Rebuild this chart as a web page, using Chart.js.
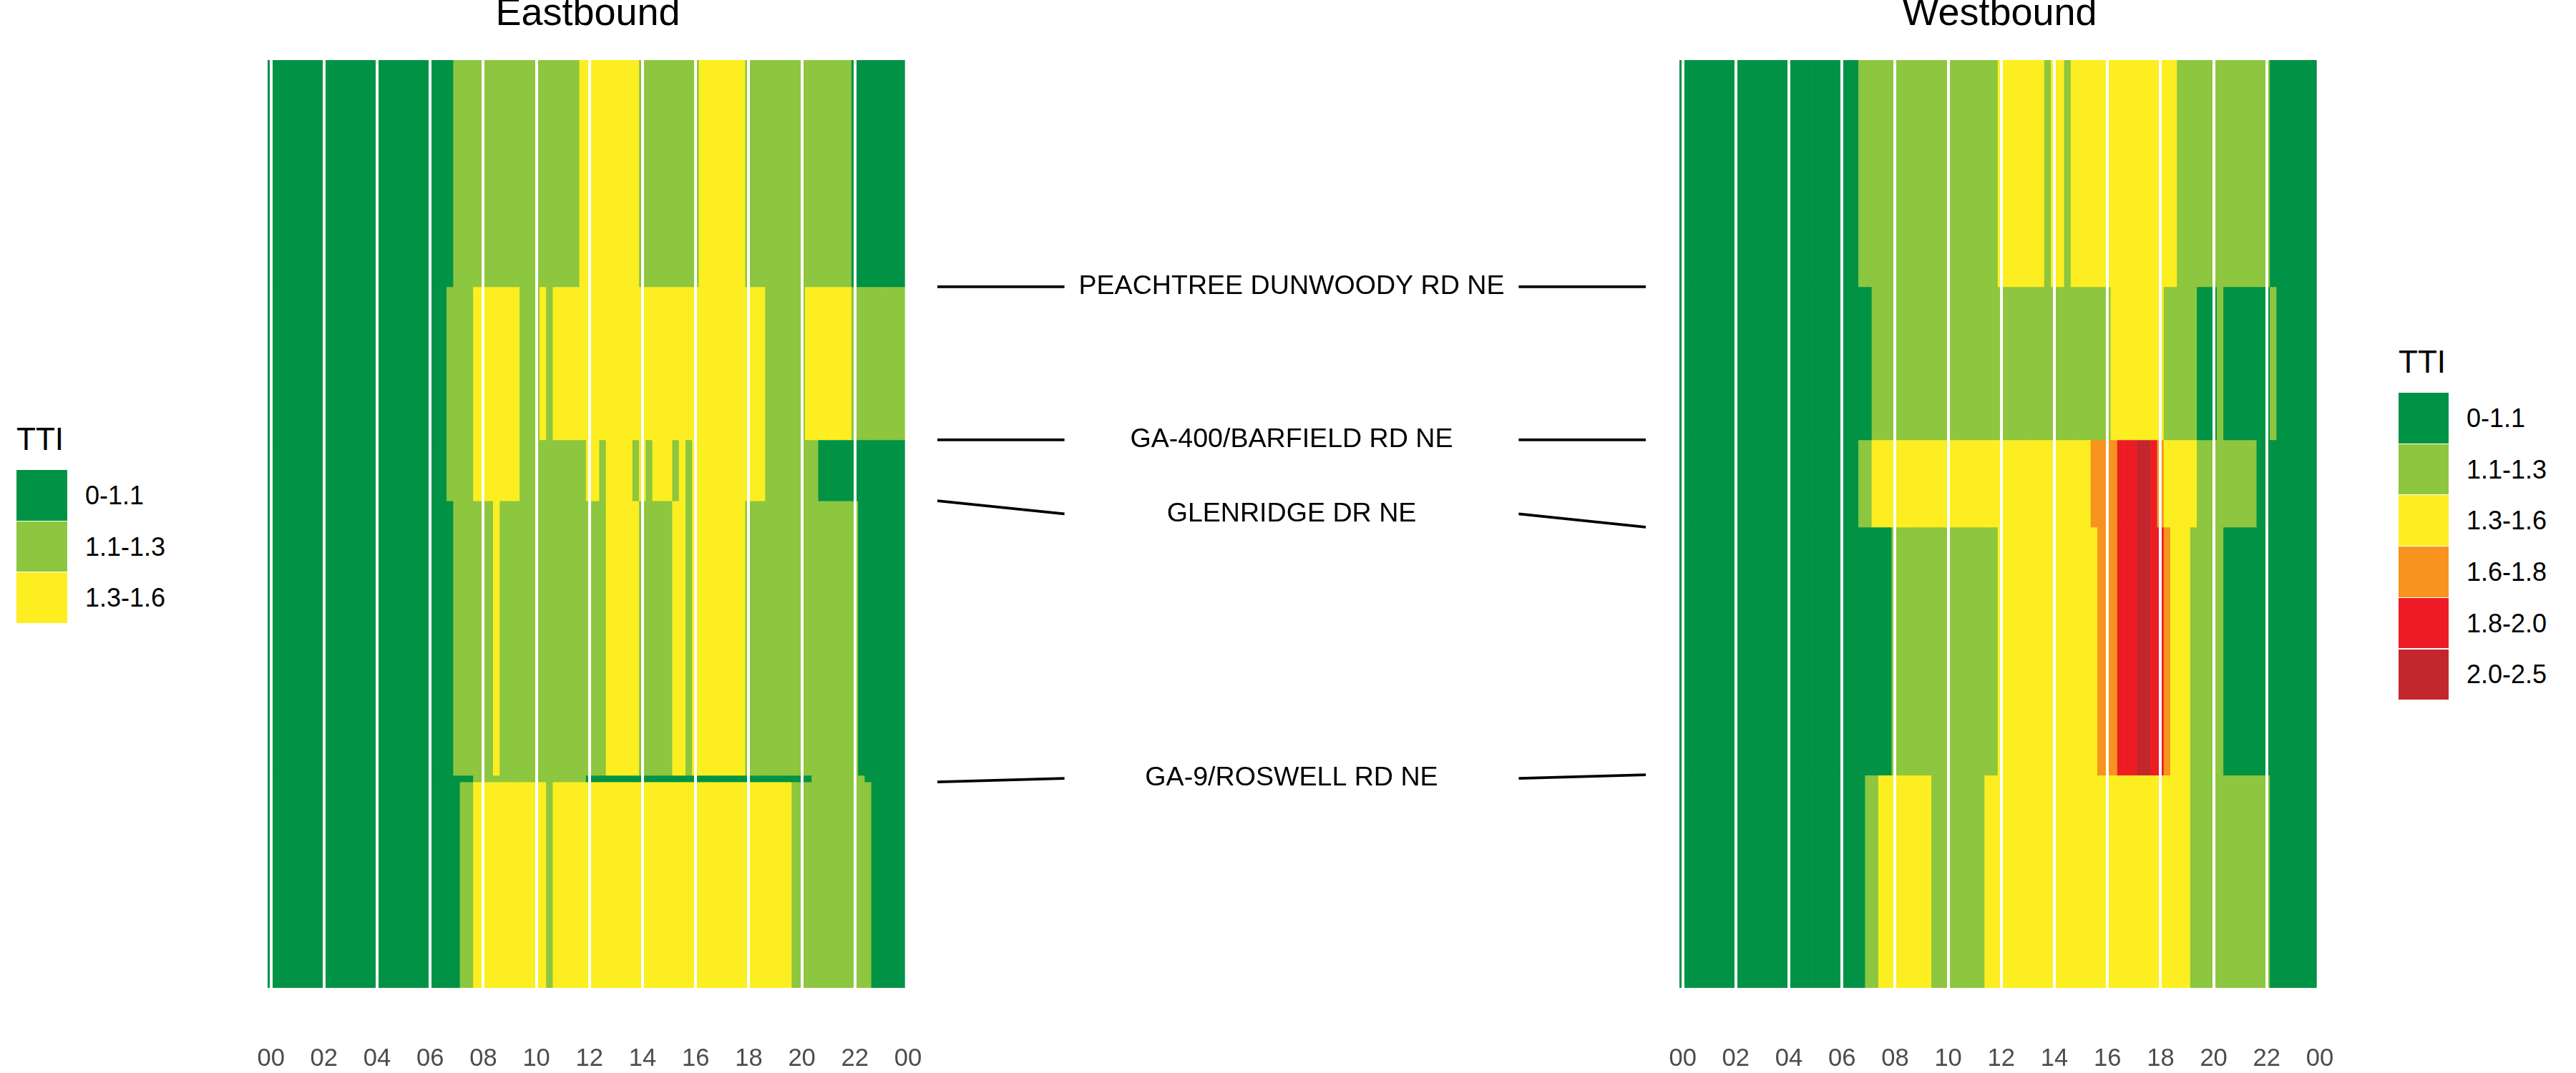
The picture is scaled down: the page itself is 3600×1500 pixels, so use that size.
<!DOCTYPE html>
<html>
<head>
<meta charset="utf-8">
<script src="https://cdn.jsdelivr.net/npm/chart.js@4.4.0/dist/chart.umd.min.js"></script>
<style>
  html, body { margin:0; padding:0; background:#fff; width:3600px; height:1500px; overflow:hidden;
    font-family:"Liberation Sans", Arial, sans-serif; }
  .wrap { position:absolute; top:0; }
  .lg-title { position:absolute; font-size:44px; line-height:44px; color:#000; white-space:nowrap; }
  .lg-key { position:absolute; }
  .lg-label { position:absolute; font-size:36px; line-height:36px; color:#000; white-space:nowrap; }
</style>
</head>
<body>
<div class="wrap" id="eastWrap" style="left:274px;width:1095px;height:1579px"><canvas id="east" width="1095" height="1579"></canvas></div>
<div class="wrap" id="midWrap" style="left:1310px;width:990px;height:1500px"><canvas id="mid" width="990" height="1500"></canvas></div>
<div class="wrap" id="westWrap" style="left:2247px;width:1095px;height:1579px"><canvas id="west" width="1095" height="1579"></canvas></div>
<div id="legends"></div>
<script>
// ---------------- DATA ----------------
const timeBins = [
  "00:00","00:15","00:30","00:45","01:00","01:15","01:30","01:45",
  "02:00","02:15","02:30","02:45","03:00","03:15","03:30","03:45",
  "04:00","04:15","04:30","04:45","05:00","05:15","05:30","05:45",
  "06:00","06:15","06:30","06:45","07:00","07:15","07:30","07:45",
  "08:00","08:15","08:30","08:45","09:00","09:15","09:30","09:45",
  "10:00","10:15","10:30","10:45","11:00","11:15","11:30","11:45",
  "12:00","12:15","12:30","12:45","13:00","13:15","13:30","13:45",
  "14:00","14:15","14:30","14:45","15:00","15:15","15:30","15:45",
  "16:00","16:15","16:30","16:45","17:00","17:15","17:30","17:45",
  "18:00","18:15","18:30","18:45","19:00","19:15","19:30","19:45",
  "20:00","20:15","20:30","20:45","21:00","21:15","21:30","21:45",
  "22:00","22:15","22:30","22:45","23:00","23:15","23:30","23:45"
];
const tickHours  = [0, 2, 4, 6, 8, 10, 12, 14, 16, 18, 20, 22, 24];
const tickLabels = ["00","02","04","06","08","10","12","14","16","18","20","22","00"];

const ttiLabels = ["0-1.1", "1.1-1.3", "1.3-1.6", "1.6-1.8", "1.8-2.0", "2.0-2.5"];
const ttiColors = ["#009245", "#8DC63F", "#FCEE21", "#F7931E", "#ED1C24", "#C1272D"];

// segment boundaries along the corridor (miles from top of panel)
const eastBounds = [0, 0.733, 1.228, 1.425, 2.313, 2.334, 3.0];
const westBounds = [0, 0.733, 1.228, 1.510, 2.312, 3.0];

// TTI class per 15-minute bin (index into ttiLabels), one string per segment
const eastSeg1 = "00000000 00000000 00000000 00001111 11111111 11111112 22222222 11111111 12222222 11111111 11111111 00000000";
const eastSeg2 = "00000000 00000000 00000000 00011112 22222211 12122222 22222222 22222222 22222222 22211111 12222222 11111111";
const eastSeg3 = "00000000 00000000 00000000 00011112 22222211 11111111 22122221 21222121 22222222 22211111 11100000 00000000";
const eastSeg4 = "00000000 00000000 00000000 00001111 11211111 11111111 11122222 11111221 22222222 11111111 11111111 10000000";
const eastSeg5 = "00000000 00000000 00000000 00000001 11111111 11111111 00000000 00000000 00000000 00000000 00111111 11000000";
const eastSeg6 = "00000000 00000000 00000000 00000112 22222222 22122222 22222222 22222222 22222222 22222221 11111111 11100000";

const westSeg1 = "00000000 00000000 00000000 00011111 11111111 11111111 22222221 22122222 22222222 22211111 11111111 10000000";
const westSeg2 = "00000000 00000000 00000000 00000111 11111111 11111111 11111111 11111111 12222222 21111100 01000000 01000000";
const westSeg3 = "00000000 00000000 00000000 00011222 22222222 22222222 22222222 22222233 33444554 32222211 11111110 00000000";
const westSeg4 = "00000000 00000000 00000000 00000000 11111111 11111111 22222222 22222223 33444554 43222111 11000000 00000000";
const westSeg5 = "00000000 00000000 00000000 00001122 22222211 11111122 22222222 22222222 22222222 22222111 11111111 10000000";

// road landmarks (name, position in east panel, position in west panel)
const landmarkNames = ["PEACHTREE DUNWOODY RD NE", "GA-400/BARFIELD RD NE", "GLENRIDGE DR NE", "GA-9/ROSWELL RD NE"];
const landmarkEast  = [0.733, 1.228, 1.425, 2.334];
const landmarkWest  = [0.733, 1.228, 1.510, 2.311];

// ---------------- BUILD ----------------
const FONT = "'Liberation Sans', Arial, sans-serif";
const hourOf = s => Number(s.slice(0, 2)) + Number(s.slice(3, 5)) / 60;
const clean = s => s.replace(/\s+/g, "").split("").map(Number);

function heatDatasets(segments, bounds) {
  return segments.map((seg, i) => {
    const codes = clean(seg);
    return {
      data: timeBins.map(t => ({ x: hourOf(t), y: [bounds[i], bounds[i + 1]] })),
      backgroundColor: codes.map(c => ttiColors[c]),
      borderWidth: 0,
      grouped: false,
      barPercentage: 1,
      categoryPercentage: 1
    };
  });
}

function heatChart(id, title, segments, bounds) {
  return new Chart(document.getElementById(id), {
    type: "bar",
    data: { datasets: heatDatasets(segments, bounds) },
    options: {
      responsive: false,
      animation: false,
      layout: { padding: { left: 100, right: 100, top: 0, bottom: 0 } },
      plugins: {
        legend: { display: false },
        tooltip: { enabled: false },
        title: {
          display: true, text: title, color: "#000000",
          font: { family: FONT, size: 54, weight: "normal", lineHeight: 0.74 },
          padding: { top: 0.6, bottom: 43.4 }
        }
      },
      scales: {
        x: {
          type: "linear", min: -0.125, max: 24, offset: false,
          afterBuildTicks: axis => { axis.ticks = tickHours.map(v => ({ value: v })); },
          grid: { color: "#FFFFFF", lineWidth: 4, z: 1, drawTicks: false, offset: false },
          border: { display: false },
          ticks: {
            autoSkip: false, maxRotation: 0, minRotation: 0, padding: 0,
            color: "#4D4D4D", font: { family: FONT, size: 34.6, lineHeight: "198px" },
            callback: (v, i) => tickLabels[i]
          }
        },
        y: { type: "linear", min: 0, max: 3.0, reverse: true, display: false }
      }
    }
  });
}

heatChart("east", "Eastbound", [eastSeg1, eastSeg2, eastSeg3, eastSeg4, eastSeg5, eastSeg6], eastBounds);
heatChart("west", "Westbound", [westSeg1, westSeg2, westSeg3, westSeg4, westSeg5], westBounds);

// middle panel: connector lines + road names
const connLen = 0.1794;
const midDatasets = [];
landmarkNames.forEach((n, i) => {
  const ly = (landmarkEast[i] + landmarkWest[i]) / 2;
  midDatasets.push({ data: [{ x: 0, y: landmarkEast[i] }, { x: connLen, y: ly }] });
  midDatasets.push({ data: [{ x: 1 - connLen, y: ly }, { x: 1, y: landmarkWest[i] }] });
});
const roadLabelPlugin = {
  id: "roadLabels",
  afterDatasetsDraw(chart) {
    const { ctx, scales } = chart;
    ctx.save();
    ctx.fillStyle = "#000000";
    ctx.font = "37.6px " + FONT;
    ctx.textAlign = "center";
    ctx.textBaseline = "middle";
    landmarkNames.forEach((n, i) => {
      const ly = (landmarkEast[i] + landmarkWest[i]) / 2;
      ctx.fillText(n, scales.x.getPixelForValue(0.5), scales.y.getPixelForValue(ly));
    });
    ctx.restore();
  }
};
new Chart(document.getElementById("mid"), {
  type: "line",
  data: { datasets: midDatasets.map(d => Object.assign(d, {
    borderColor: "#000000", borderWidth: 3.8, pointRadius: 0, fill: false, tension: 0, clip: false })) },
  options: {
    responsive: false, animation: false,
    layout: { padding: { left: 0, right: 0, top: 84, bottom: 119 } },
    plugins: { legend: { display: false }, tooltip: { enabled: false }, title: { display: false } },
    scales: {
      x: { type: "linear", min: 0, max: 1, display: false },
      y: { type: "linear", min: 0, max: 3.0, reverse: true, display: false }
    }
  },
  plugins: [roadLabelPlugin]
});

// legends (TTI classes that occur in each panel)
function usedClasses(segs) {
  const s = new Set();
  segs.forEach(seg => clean(seg).forEach(c => s.add(c)));
  return [...s].sort((a, b) => a - b);
}
function buildLegend(x, titleTop, keysTop, keyW, keyH, labelX, classes) {
  const host = document.getElementById("legends");
  const t = document.createElement("div");
  t.className = "lg-title"; t.textContent = "TTI";
  t.style.left = x + "px"; t.style.top = titleTop + "px";
  host.appendChild(t);
  classes.forEach((c, i) => {
    const k = document.createElement("div");
    k.className = "lg-key";
    k.style.left = x + "px"; k.style.top = (keysTop + i * keyH) + "px";
    k.style.width = keyW + "px"; k.style.height = (keyH - 1) + "px";
    k.style.background = ttiColors[c];
    host.appendChild(k);
    const l = document.createElement("div");
    l.className = "lg-label"; l.textContent = ttiLabels[c];
    l.style.left = labelX + "px";
    l.style.top = (keysTop + i * keyH + keyH / 2 - 18) + "px";
    host.appendChild(l);
  });
}
buildLegend(23, 592, 657, 71, 71.7, 119, usedClasses([eastSeg1, eastSeg2, eastSeg3, eastSeg4, eastSeg5, eastSeg6]));
buildLegend(3352, 483.5, 549, 70, 71.7, 3447, usedClasses([westSeg1, westSeg2, westSeg3, westSeg4, westSeg5]));
</script>
</body>
</html>
